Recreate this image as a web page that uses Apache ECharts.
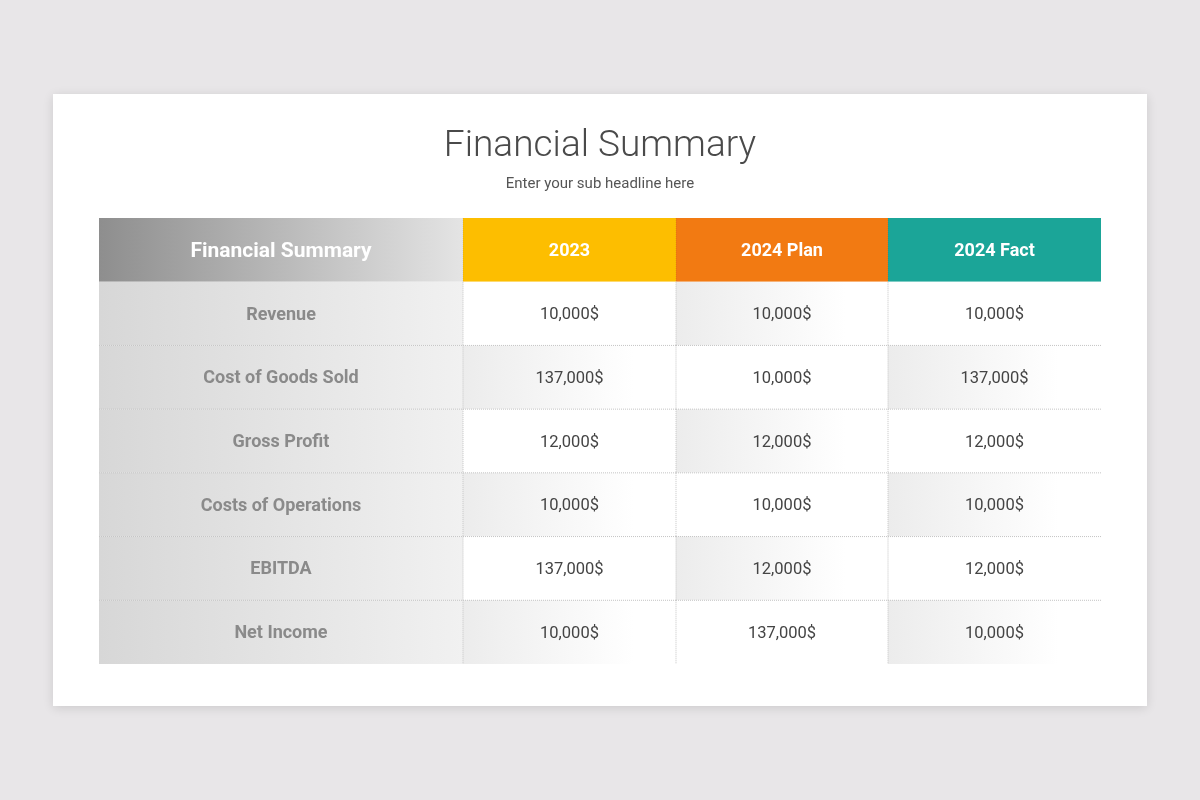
<!DOCTYPE html>
<html>
<head>
<meta charset="utf-8">
<title>Financial Summary</title>
<script src="https://cdn.jsdelivr.net/npm/echarts@6/dist/echarts.min.js"></script>
<style>
  html, body { margin: 0; padding: 0; background: #e8e6e8; }
  #main { width: 1200px; height: 800px; }
</style>
</head>
<body>
<div id="main"></div>
<script>
// table content
var columns = ['Financial Summary', '2023', '2024 Plan', '2024 Fact'];
var rowLabels = ['Revenue', 'Cost of Goods Sold', 'Gross Profit', 'Costs of Operations', 'EBITDA', 'Net Income'];
var values2023 = [10000, 137000, 12000, 10000, 137000, 10000];
var values2024Plan = [10000, 10000, 12000, 10000, 12000, 137000];
var values2024Fact = [10000, 137000, 12000, 10000, 12000, 10000];

// layout: relative column widths and header colours
var colWidths = [364, 213, 212, 213];
var headColors = [null, '#fdbe00', '#f27a12', '#1ba598'];

var edges = [0];
colWidths.forEach(function (w, i) { edges.push(edges[i] + w); });

function fmt(v) {
  return v.toLocaleString('en-US') + '$';
}

// cells: [col, row, text]  row 0 = header
var cells = [];
columns.forEach(function (c, j) { cells.push([j, 0, c]); });
var valueCols = [values2023, values2024Plan, values2024Fact];
rowLabels.forEach(function (label, i) {
  cells.push([0, i + 1, label]);
  valueCols.forEach(function (arr, j) {
    cells.push([j + 1, i + 1, fmt(arr[i])]);
  });
});

var chart = echarts.init(document.getElementById('main'));

function renderCell(params, api) {
  var col = api.value(0);
  var row = api.value(1);
  var text = cells[params.dataIndex][2];
  var x0 = api.coord([edges[col], row])[0];
  var x1 = api.coord([edges[col + 1], row])[0];
  var cy = api.coord([edges[col], row])[1];
  var h = api.size([0, 1])[1];
  var y0 = cy - h / 2;
  var w = x1 - x0;
  var children = [];
  var fill, textStyle;

  if (row === 0) {
    fill = col === 0
      ? new echarts.graphic.LinearGradient(0, 0, 1, 0, [
          { offset: 0, color: '#8e8e8e' },
          { offset: 1, color: '#e4e4e4' }
        ])
      : headColors[col];
    textStyle = { fill: '#ffffff', fontSize: col === 0 ? 21 : 18, fontWeight: 'bold' };
  } else if (col === 0) {
    fill = new echarts.graphic.LinearGradient(0, 0, 1, 0, [
      { offset: 0, color: '#d7d7d7' },
      { offset: 1, color: '#f1f1f1' }
    ]);
    textStyle = { fill: '#8a8a8a', fontSize: 18, fontWeight: 'bold' };
  } else {
    var shaded = ((row - 1) + (col - 1)) % 2 === 1;
    fill = shaded
      ? new echarts.graphic.LinearGradient(0, 0, 1, 0, [
          { offset: 0, color: '#ececec' },
          { offset: 0.8, color: '#ffffff' },
          { offset: 1, color: '#ffffff' }
        ])
      : '#ffffff';
    textStyle = { fill: '#444444', fontSize: 16.5, fontWeight: 'normal' };
  }

  children.push({
    type: 'rect',
    shape: { x: x0, y: y0, width: w, height: h },
    style: { fill: fill }
  });

  // inner dotted borders
  if (row > 1) {
    children.push({
      type: 'line',
      shape: { x1: x0, y1: y0, x2: x1, y2: y0 },
      style: { stroke: '#c4c4c4', lineWidth: 1, lineDash: [1, 1] }
    });
  }
  if (col > 0) {
    children.push({
      type: 'line',
      shape: { x1: x0, y1: y0, x2: x0, y2: y0 + h },
      style: { stroke: row === 0 ? 'rgba(0,0,0,0.08)' : '#c4c4c4', lineWidth: 1, lineDash: [1, 1] }
    });
  }

  children.push({
    type: 'text',
    style: {
      text: text,
      x: (x0 + x1) / 2,
      y: cy + 1.5,
      align: 'center',
      verticalAlign: 'middle',
      fill: textStyle.fill,
      fontSize: textStyle.fontSize,
      fontWeight: textStyle.fontWeight,
      fontFamily: 'Roboto'
    }
  });

  return { type: 'group', children: children };
}

var option = {
  backgroundColor: '#e8e6e8',
  animation: false,
  graphic: [{
    type: 'rect',
    z: -10,
    shape: { x: 53, y: 94, width: 1094, height: 612 },
    style: {
      fill: '#ffffff',
      shadowBlur: 10,
      shadowOffsetY: 2,
      shadowColor: 'rgba(0,0,0,0.12)'
    }
  }],
  title: [{
    text: 'Financial Summary',
    left: 'center',
    top: 123,
    textStyle: { fontFamily: 'Roboto', fontSize: 37, fontWeight: 300, color: '#4a4a4a' }
  }, {
    text: 'Enter your sub headline here',
    left: 'center',
    top: 172,
    textStyle: { fontFamily: 'Roboto', fontSize: 15, fontWeight: 'normal', color: '#555555' }
  }],
  grid: { left: 99, right: 99, top: 218, bottom: 136 },
  xAxis: { type: 'value', min: 0, max: edges[edges.length - 1], show: false },
  yAxis: {
    type: 'category',
    data: ['header'].concat(rowLabels),
    inverse: true,
    show: false
  },
  series: [{
    type: 'custom',
    renderItem: renderCell,
    data: cells.map(function (c) { return [c[0], c[1]]; }),
    encode: { x: 0, y: 1 }
  }]
};

chart.setOption(option);
</script>
</body>
</html>
